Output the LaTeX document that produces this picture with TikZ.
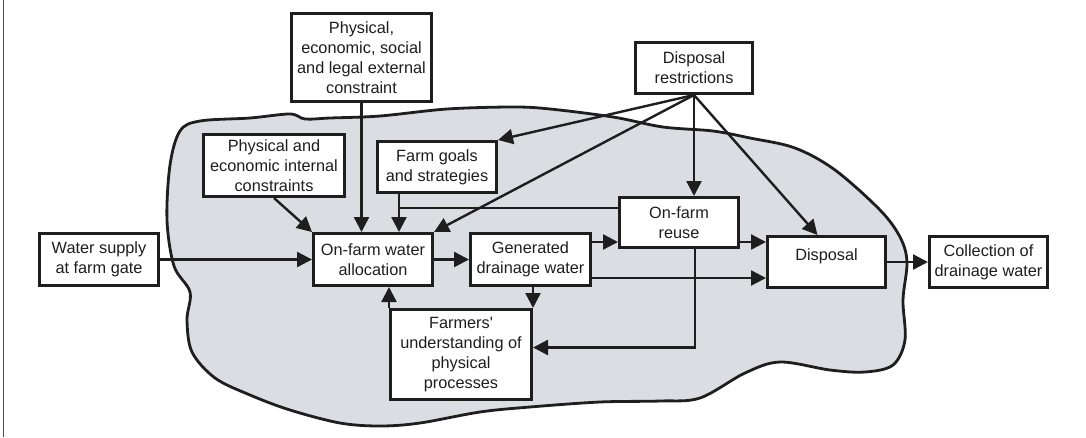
\documentclass[tikz,border=0pt]{standalone}
\usepackage{fontspec}
\setmainfont{Liberation Sans}
\usetikzlibrary{arrows.meta,calc}
\definecolor{blobfill}{RGB}{218,221,226}
\definecolor{ink}{RGB}{30,30,30}
\begin{document}
\begin{tikzpicture}[x=1pt,y=-1pt,
  box/.style={draw=ink, line width=3pt, fill=white, rectangle, inner sep=0pt,
    align=center, font=\fontsize{16.3}{20}\selectfont, text=ink},
  conn/.style={draw=ink, line width=2.4pt},
  arr/.style={conn, -{Triangle[length=15pt,width=15pt]}}]
\useasboundingbox (0,0) rectangle (1086,437);
\draw[gray!60!black, line width=1.3pt] (3.5,0) -- (3.5,437);
% blob
\draw[ink, line width=2.8pt, fill=blobfill] plot[smooth cycle, tension=0.55] coordinates {
 (167,220) (170,165) (180,131) (200,121) (250,118) (290,114) (305,119) (330,118)
 (380,116) (447,109) (513,107) (550,109) (613,117) (663,127) (713,131) (750,138)
 (795,148) (835,170) (880,210) (900,237) (907,262) (903,300) (905,340) (893,365)
 (865,372) (830,370) (780,362) (745,373) (700,398) (660,401) (600,402) (530,407)
 (480,412) (420,423) (380,426) (340,423) (290,410) (250,395) (215,378) (192,352)
 (187,320) (190,292) (174,266)};
% nodes
\node[box, minimum width=140pt, minimum height=88pt] (ext) at (361.5,57.5) {Physical,\\economic, social\\and legal external\\constraint};
\node[box, minimum width=117pt, minimum height=51pt] (disr) at (694,68) {Disposal\\restrictions};
\node[box, minimum width=141pt, minimum height=62pt] (intc) at (274,165.5) {Physical and\\economic internal\\constraints};
\node[box, minimum width=119pt, minimum height=51pt] (goals) at (437,167) {Farm goals\\and strategies};
\node[box, minimum width=119pt, minimum height=52pt] (supply) at (99,259.5) {Water supply\\at farm gate};
\node[box, minimum width=119pt, minimum height=52pt] (alloc) at (373,259.5) {On-farm water\\allocation};
\node[box, minimum width=120pt, minimum height=52pt] (gen) at (530.5,259.5) {Generated\\drainage water};
\node[box, minimum width=119pt, minimum height=50pt] (reuse) at (679,222.5) {On-farm\\reuse};
\node[box, minimum width=118pt, minimum height=51pt, text depth=14pt] (disp) at (826.5,262) {Disposal};
\node[box, minimum width=118pt, minimum height=51pt] (coll) at (988.5,262) {Collection of\\drainage water};
\node[box, minimum width=141pt, minimum height=90pt] (farm) at (461,354.5) {Farmers\textquotesingle\\understanding of\\physical\\processes};
% helper coordinates
\coordinate (g1) at ([xshift=23pt]goals.south west);
\coordinate (r1) at ([yshift=-12pt]reuse.north west);
\coordinate (ge1) at ([yshift=-10pt]gen.north east);
\coordinate (ge2) at ([yshift=9pt]gen.south east);
\coordinate (re1) at ([yshift=7pt]reuse.south east);
\coordinate (r2) at ([xshift=16pt]reuse.south);
\coordinate (ds) at (disr.south);
% connectors
\draw[arr] (supply.east) -- (alloc.west);
\draw[arr] (intc.south) -- (alloc.north west);
\draw[arr] (ext.south) -- (ext.south |- alloc.north);
\draw[arr] (g1) -- (g1 |- alloc.north);
\draw[conn] (r1) -- (r1 -| g1);
\draw[arr] (ds) -- (alloc.north east);
\draw[arr] (ds) -- (goals.north east);
\draw[arr] (ds) -- (ds |- reuse.north);
\draw[arr] (ds) -- ([xshift=-9pt]disp.north);
\draw[arr] (alloc.east) -- (gen.west);
\draw[arr] (ge1) -- (ge1 -| reuse.west);
\draw[arr] (ge2) -- (ge2 -| disp.west);
\draw[arr] (re1) -- (re1 -| disp.west);
\draw[arr] (disp.east) -- (coll.west);
\draw[arr] (farm.north east |- gen.south) -- (farm.north east);
\draw[arr] (farm.north west) -- (farm.north west |- alloc.south);
\draw[arr] (r2) |- ([yshift=7pt]farm.east);
\end{tikzpicture}
\end{document}
